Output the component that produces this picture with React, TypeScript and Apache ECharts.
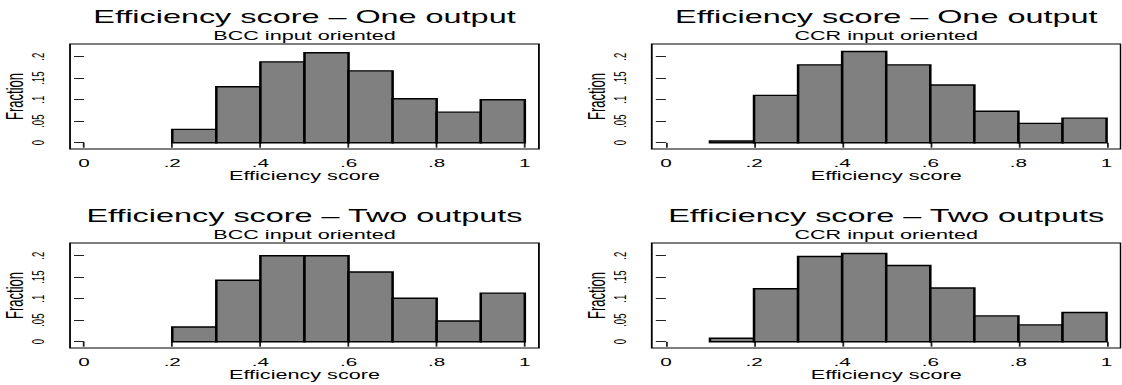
import React, { useEffect, useRef } from "react";
import * as echarts from "echarts";

// ---- data (fractions per bin of width 0.1) ----
const binWidth = 0.1;
const bccBins = [0.2, 0.3, 0.4, 0.5, 0.6, 0.7, 0.8, 0.9];
const ccrBins = [0.1, 0.2, 0.3, 0.4, 0.5, 0.6, 0.7, 0.8, 0.9];
const bccOneOutput = [0.031, 0.130, 0.188, 0.209, 0.167, 0.102, 0.071, 0.100];
const ccrOneOutput = [0.004, 0.110, 0.181, 0.212, 0.181, 0.134, 0.073, 0.045, 0.057];
const bccTwoOutputs = [0.034, 0.143, 0.200, 0.200, 0.162, 0.101, 0.048, 0.113];
const ccrTwoOutputs = [0.008, 0.123, 0.198, 0.205, 0.177, 0.125, 0.060, 0.039, 0.068];

const xTicks = [0, 0.2, 0.4, 0.6, 0.8, 1];
const yTicks = [0, 0.05, 0.1, 0.15, 0.2];

const mainTitles = [
  "Efficiency score \u2013 One output",
  "Efficiency score \u2013 One output",
  "Efficiency score \u2013 Two outputs",
  "Efficiency score \u2013 Two outputs",
];
const subTitles = [
  "BCC input oriented",
  "CCR input oriented",
  "BCC input oriented",
  "CCR input oriented",
];
const xAxisTitle = "Efficiency score";
const yAxisTitle = "Fraction";

// ---- layout (drawn in an unstretched frame, then stretched horizontally) ----
const STRETCH = 1.8;
const FULL_W = 1122;
const FULL_H = 385;
const W = FULL_W / STRETCH;
const FONT = "'Liberation Sans', Arial, Helvetica, sans-serif";

const panels = [
  { bins: bccBins, values: bccOneOutput, left: 38.9, top: 44 },
  { bins: ccrBins, values: ccrOneOutput, left: 362.1, top: 44 },
  { bins: bccBins, values: bccTwoOutputs, left: 38.9, top: 243 },
  { bins: ccrBins, values: ccrTwoOutputs, left: 362.1, top: 243 },
];
const GRID_W = 260.5;
const GRID_H = 105;

const fmt = (v: number) => {
  if (v === 0) return "0";
  if (v === 1) return "1";
  return String(+v.toFixed(2)).replace(/^0/, "");
};

export default function App() {
  const ref = useRef<HTMLDivElement>(null);

  useEffect(() => {
    if (!ref.current) return;
    const chart = echarts.init(ref.current, undefined, { renderer: "svg" });

    const grid: any[] = [];
    const xAxis: any[] = [];
    const yAxis: any[] = [];
    const series: any[] = [];
    const title: any[] = [];

    panels.forEach((p, i) => {
      grid.push({
        left: p.left,
        top: p.top,
        width: GRID_W,
        height: GRID_H,
        show: true,
        borderColor: "#000",
        borderWidth: 1,
        backgroundColor: "#fff",
        containLabel: false,
      });
      xAxis.push({
        type: "value",
        gridIndex: i,
        min: -0.032,
        max: 1.032,
        axisLine: { show: false },
        splitLine: { show: false },
        axisTick: {
          show: true,
          customValues: xTicks,
          length: 5,
          lineStyle: { color: "#222", width: 1 },
        },
        axisLabel: {
          customValues: xTicks,
          formatter: (v: number) => fmt(v),
          fontSize: 11.5,
          fontFamily: FONT,
          color: "#000",
          margin: 8,
        },
        name: xAxisTitle,
        nameLocation: "middle",
        nameGap: 20,
        nameTextStyle: { fontSize: 12, fontFamily: FONT, color: "#000" },
      });
      yAxis.push({
        type: "value",
        gridIndex: i,
        min: -0.0147,
        max: 0.2295,
        axisLine: { show: false },
        splitLine: { show: false },
        axisTick: {
          show: true,
          customValues: yTicks,
          length: 5.6,
          lineStyle: { color: "#222", width: 1 },
        },
        axisLabel: {
          customValues: yTicks,
          formatter: (v: number) => fmt(v),
          rotate: 90,
          fontSize: 9.5,
          fontFamily: FONT,
          color: "#000",
          margin: 13,
        },
        name: yAxisTitle,
        nameLocation: "middle",
        nameRotate: 90,
        nameGap: 24,
        nameTextStyle: {
          fontSize: 13,
          fontFamily: FONT,
          color: "#000",
        },
      });
      series.push({
        type: "custom",
        xAxisIndex: i,
        yAxisIndex: i,
        data: p.bins.map((b, j) => [b, b + binWidth, p.values[j]]),
        encode: { x: [0, 1], y: 2 },
        renderItem: (_params: any, api: any) => {
          const a = api.coord([api.value(0), api.value(2)]);
          const b = api.coord([api.value(1), 0]);
          return {
            type: "rect",
            shape: { x: a[0], y: a[1], width: b[0] - a[0], height: b[1] - a[1] },
            style: { fill: "#808080", stroke: "#000", lineWidth: 1.4 },
          };
        },
      });
      const cx = p.left + GRID_W / 2;
      title.push({
        text: mainTitles[i],
        left: cx,
        top: p.top - 36.5,
        textAlign: "center",
        padding: 0,
        textStyle: { fontSize: 18, fontWeight: "normal", fontFamily: FONT, color: "#000" },
      });
      title.push({
        text: subTitles[i],
        left: cx,
        top: p.top - 14.5,
        textAlign: "center",
        padding: 0,
        textStyle: { fontSize: 12, fontWeight: "normal", fontFamily: FONT, color: "#000" },
      });
    });

    chart.setOption({
      animation: false,
      backgroundColor: "#fff",
      title,
      grid,
      xAxis,
      yAxis,
      series,
    });

    return () => chart.dispose();
  }, []);

  return (
    <div
      style={{
        position: "absolute",
        left: 0,
        top: 0,
        width: FULL_W,
        height: FULL_H,
        overflow: "hidden",
        background: "#fff",
      }}
    >
      <div
        ref={ref}
        style={{
          width: W,
          height: FULL_H,
          transform: `scaleX(${STRETCH})`,
          transformOrigin: "0 0",
        }}
      />
    </div>
  );
}
